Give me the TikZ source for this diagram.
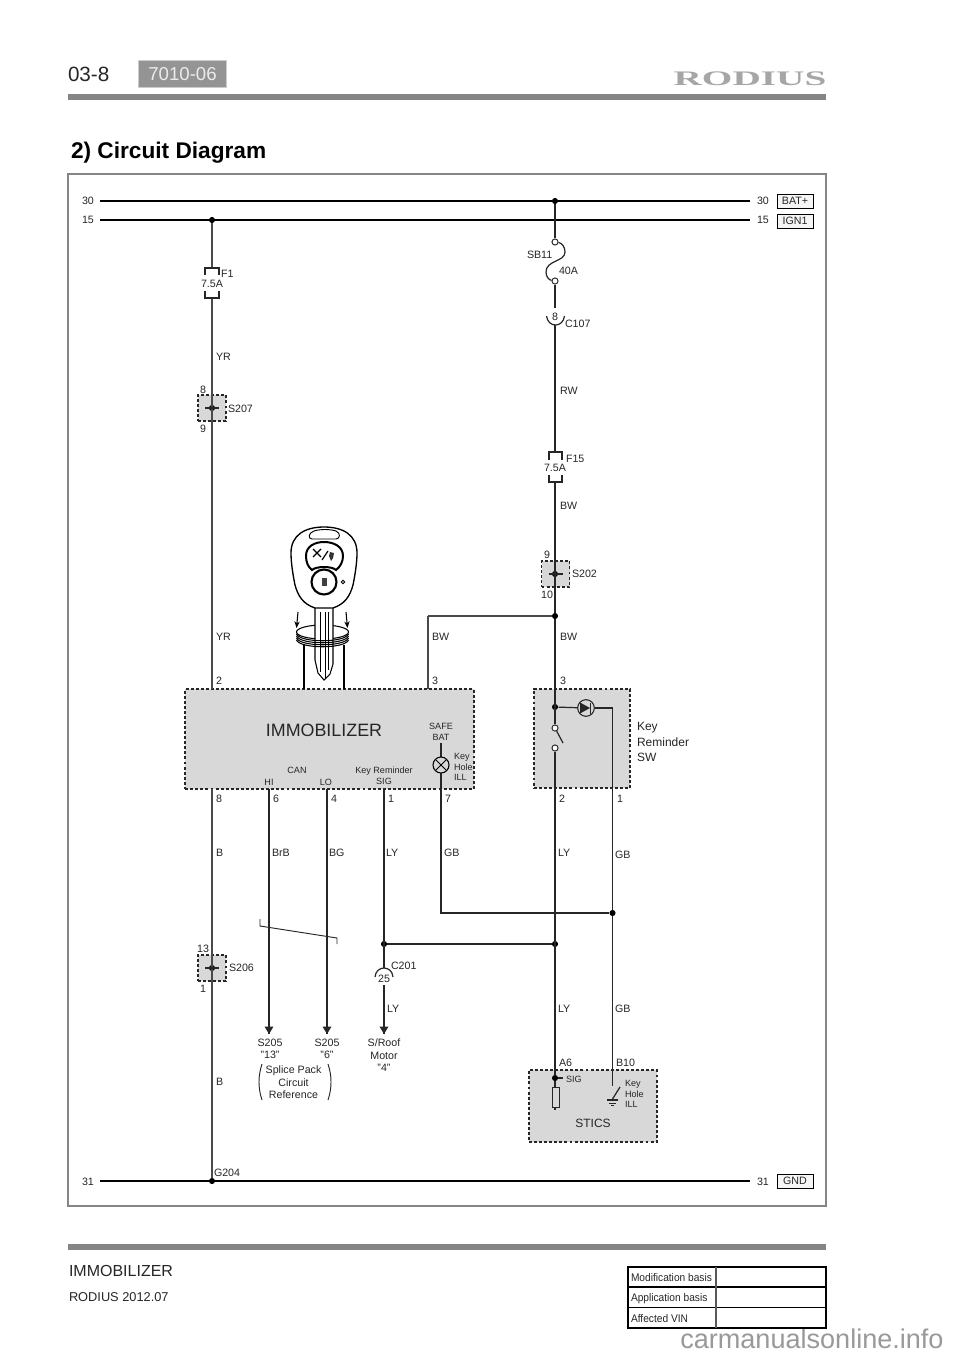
\documentclass[tikz,border=0pt]{standalone}
\usepackage{fontspec}
\setmainfont{Liberation Sans}
\newfontfamily\narrowsans[FakeStretch=0.92]{Liberation Sans}
\newfontfamily\logofont{Liberation Serif}
\usetikzlibrary{arrows.meta,calc}
\definecolor{boxgray}{HTML}{D8D8D8}
\definecolor{framegray}{HTML}{858585}
\definecolor{wiregray}{HTML}{4A4A4A}
\tikzset{
 x=0.75pt,y=-0.75pt,
 lbl/.style={inner sep=0pt,outer sep=0pt,yshift=-0.75pt,font=\fontsize{8}{9.4}\selectfont,text=black!85,anchor=west},
 ctr/.style={inner sep=0pt,outer sep=0pt,yshift=-0.75pt,font=\fontsize{8}{9.4}\selectfont,text=black!85,anchor=center,align=center},
 small/.style={font=\fontsize{6.8}{8}\selectfont},
 bus/.style={line width=1.5pt,black},
 wire/.style={line width=0.95pt,wiregray},
 thinwire/.style={line width=0.9pt,black!85},
 dot/.style={circle,fill=black,inner sep=0pt,minimum size=4.6pt},
 term/.style={circle,draw=black!85,fill=white,line width=0.7pt,inner sep=0pt,minimum size=4.6pt},
 dbox/.style={draw=black!85,fill=boxgray,line width=1.1pt,dash pattern=on 2.2pt off 1.6pt,inner sep=0pt},
 splicebox/.style={dbox,line width=0.8pt,minimum width=21pt,minimum height=19.5pt},
 tag/.style={draw=black,fill=black!4,line width=0.7pt,inner sep=0pt,minimum width=27pt,minimum height=10.5pt,font=\fontsize{8}{9}\selectfont,text=black!85},
 tip/.style={-{Triangle[length=5.5pt,width=6.4pt]}},
}
\begin{document}
\begin{tikzpicture}
\useasboundingbox (0,0) rectangle (960,1358);
\fill[white] (0,0) rectangle (960,1358);

% ----- page furniture
\draw[framegray,line width=3.8pt] (68,97) -- (826,97);
\draw[framegray,line width=3.8pt] (68,1247) -- (826,1247);
\node (pagenum) [lbl,font=\fontsize{15.5}{18}\selectfont] at (68,73) {03-8};
\node (code) [draw=black!20,fill=black!42,line width=1pt,inner sep=0pt,minimum width=66pt,minimum height=20.5pt,text=white!92!black,font=\fontsize{14}{16}\selectfont] at (182.5,74) {7010-06};
\node (logo) [inner sep=0pt,text=black!35,font=\logofont\bfseries\fontsize{15.5}{17}\selectfont] at (750,79) {\scalebox{1.9}[1]{RODIUS}};
\node (title) [lbl,text=black,font=\bfseries\fontsize{17}{20}\selectfont] at (71,152) {2) Circuit Diagram};
\draw[framegray,line width=1.5pt,fill=white] (67.5,174.5) rectangle (826,1206);
\node (footA) [lbl,font=\fontsize{12}{14}\selectfont] at (69,1270) {IMMOBILIZER};
\node (footB) [lbl,font=\fontsize{9.6}{11}\selectfont] at (69,1296) {RODIUS 2012.07};
\node (wm) [inner sep=0pt,anchor=base west,text=black!40,font=\fontsize{20.3}{24}\selectfont] at (680,1348) {carmanualsonline.info};

% table
\draw[black,line width=0.8pt] (628,1267) rectangle (826,1328);
\draw[black,line width=0.8pt] (628,1287) -- (826,1287) (628,1307.5) -- (826,1307.5);
\draw[black!65,line width=1.1pt] (716,1267) -- (716,1328);
\node (t1) [lbl,font=\narrowsans\fontsize{8.3}{10}\selectfont] at (631,1277) {Modification basis};
\node (t2) [lbl,font=\narrowsans\fontsize{8.3}{10}\selectfont] at (631,1298) {Application basis};
\node (t3) [lbl,font=\narrowsans\fontsize{8.3}{10}\selectfont] at (631,1318) {Affected VIN};

% ----- boxes
\node (imm) [dbox,minimum width=216.5pt,minimum height=75pt] at (329.5,739) {};
\node (krs) [dbox,minimum width=72pt,minimum height=74.5pt] at (582,738.5) {};
\node (stics) [dbox,line width=.8pt,minimum width=96pt,minimum height=54pt] at (593,1106) {};
\node (s207) [splicebox] at (212,408) {};
\node (s202) [splicebox] at (555.5,574) {};
\node (s206) [splicebox] at (212,968) {};

% ----- named points
\coordinate (b30l) at (100,201); \coordinate (b30r) at (750,201);
\coordinate (b15l) at (100,220); \coordinate (b15r) at (750,220);
\coordinate (b31l) at (100,1181); \coordinate (b31r) at (750,1181);
\node (j30) [dot] at (555,201) {};
\node (j15) [dot] at (212,220) {};
\node (j31) [dot] at (212,1181) {};
\node (d207) [dot] at (212,408) {};
\node (d202) [dot] at (555,574) {};
\node (d206) [dot] at (212,968) {};
\node (jbw) [dot] at (555,616) {};
\node (jkr) [dot] at (555,707) {};
\node (jgb) [dot] at (612.5,913) {};
\node (jly) [dot] at (555,944) {};
\node (jly2) [dot] at (384,944) {};
\node (jsig) [dot] at (555,1078) {};
\node (sbtop) [term] at (555,242) {};
\node (sbbot) [term] at (555,281) {};
\node (swa) [term] at (555,728) {};
\node (swb) [term] at (555,748) {};
\coordinate (f1a) at (212,268); \coordinate (f1b) at (212,298);
\coordinate (f15a) at (555,452); \coordinate (f15b) at (555,482);
\coordinate (c107a) at (555,308); \coordinate (c107b) at (555,325);
\coordinate (c201a) at (384,968); \coordinate (c201b) at (384,985);
\coordinate (p2) at (212,689); \coordinate (p8) at (212,789);
\coordinate (p6) at (269,789); \coordinate (p4) at (327,789); \coordinate (p1) at (384,789); \coordinate (p7) at (441,789);
\coordinate (p3) at (428,689); \coordinate (bwc) at (428,616);
\coordinate (a13) at (269,1034); \coordinate (a6) at (327,1034); \coordinate (a4) at (384,1034);
\coordinate (gbc) at (441,913);
\coordinate (lamp) at (441,765);
\coordinate (safe) at (441,743);
\coordinate (stsw) at (612.5,1086);
\coordinate (rt) at (555,1087); \coordinate (rb) at (555,1107);
\coordinate (dcorner) at (612.5,708);
\node (diode) [circle,draw=black!85,line width=.8pt,inner sep=0pt,minimum size=12.5pt] at (586,708) {};

% ----- buses
\draw[bus] (b30l) -- (b30r);
\draw[bus] (b15l) -- (b15r);
\draw[bus] (b31l) -- (b31r);

% ----- wires
\draw[wire] (j15) -- (f1a);
\draw[wire] (f1b) -- (p2);
\draw[wire] (p8) -- (j31);
\draw[wire] (bwc) -- (p3);
\draw[wire] (bwc) -- (jbw);
\draw[thinwire] (j30) -- (sbtop);
\draw[thinwire] (sbbot) -- (c107a);
\draw[thinwire] (c107b) -- (f15a);
\draw[thinwire] (f15b) -- (jbw);
\draw[thinwire] (jbw) -- (swa);
\draw[thinwire] (swb) -- (jsig);
\draw[thinwire] (jsig) -- (rt);
\draw[thinwire] (rb) -- ++(0,3);
\draw[thinwire] (jkr) -- (diode);
\draw[thinwire] (diode) -- (dcorner) -- (jgb);
\draw[thinwire] (jgb) -- (stsw);
\draw[thinwire] (lamp) -- (gbc) -- (jgb);
\draw[thinwire] (p6) -- (a13);
\draw[thinwire] (p4) -- (a6);
\draw[thinwire] (p1) -- (c201a);
\draw[thinwire] (jly2) -- (jly);
\draw[thinwire] (c201b) -- (a4);
\draw[thinwire,tip] ($(a13)+(0,-9)$) -- (a13);
\draw[thinwire,tip] ($(a6)+(0,-9)$) -- (a6);
\draw[thinwire,tip] ($(a4)+(0,-9)$) -- (a4);
\draw[thinwire] (safe) -- (lamp);

% splice ticks
\draw[thinwire] (205,408) -- (219,408);
\draw[thinwire] (548.5,574) -- (562.5,574);
\draw[thinwire] (205,968) -- (219,968);

% fuses
\draw[thinwire] (205,275) -- (205,268) -- (219,268) -- (219,275);
\draw[thinwire] (205,291) -- (205,298) -- (219,298) -- (219,291);
\draw[thinwire] (549,460) -- (549,452) -- (562,452) -- (562,460);
\draw[thinwire] (549,475) -- (549,482) -- (562,482) -- (562,475);
% fusible link
\draw[thinwire] (sbtop) .. controls (562,243) and (565,247) .. (565,252) .. controls (565,262) and (546,260) .. (546,272) .. controls (546,277) and (549,280) .. (sbbot);
% connectors
\draw[thinwire] (546.5,316) .. controls (548,328) and (563,328) .. (564.5,316);
\draw[thinwire] (375,977) .. controls (376,965) and (392,965) .. (393,977);
% diode
\fill[black!85] (580,702.5) -- (580,713.5) -- (590,708) -- cycle;
\draw[black!85,line width=.9pt] (590.5,702.5) -- (590.5,713.5);
% lamp
\node (lampc) [circle,draw=black,line width=.8pt,fill=boxgray,inner sep=0pt,minimum size=12pt] at (441,765) {};
\draw[black,line width=.7pt] ($(lampc)+(-5.6,-5.6)$) -- ($(lampc)+(5.6,5.6)$) ($(lampc)+(-5.6,5.6)$) -- ($(lampc)+(5.6,-5.6)$);
% switch
\draw[thinwire] (swa) -- (563,743);
% STICS parts
\draw[thinwire] (jsig) -- (563,1078);
\draw[black!85,line width=.7pt,fill=boxgray] (552,1087) rectangle (559,1107);
\draw[thinwire] (620,1087) -- (612.5,1099);
\draw[thinwire] (607,1100) -- (618,1100);
\draw[thinwire,line width=.6pt] (609,1103) -- (616,1103);
\draw[thinwire,line width=.6pt] (611,1105.5) -- (614,1105.5);
% twist mark
\draw[thinwire,line width=.7pt] (260,919) -- (260,926) -- (337,938) -- (337,944);
% parentheses
\draw[thinwire,line width=.7pt] (262,1064) .. controls (258,1076) and (258,1088) .. (262,1100);
\draw[thinwire,line width=.7pt] (328,1064) .. controls (332,1076) and (332,1088) .. (328,1100);

% ----- key
\draw[black,line width=.9pt] (304,645) -- (304,689) (344,645) -- (344,689);
\draw[black,line width=.8pt] (322.5,632) ellipse (26 and 7);
\draw[black,line width=.8pt,fill=white] (315,606) -- (315,660) -- (318,673) -- (324,680) -- (330,674) -- (333,664) -- (333,606);
\foreach \yy in {634,636,638,640}{\draw[black,line width=.8pt] (296.5,\yy) .. controls (300,\yy+9) and (345,\yy+9) .. (348.5,\yy);}
\draw[black,line width=.7pt] (320,612) -- (320,672) (325,612) -- (325,678) (328,612) -- (328,670);
\draw[black,line width=1pt,fill=white] (315,608) .. controls (303,604) and (298,596) .. (295,585) .. controls (293,575) and (291,563) .. (291,553) .. controls (291,535) and (305,527) .. (324,527) .. controls (343,527) and (357,535) .. (357,553) .. controls (357,563) and (355,575) .. (353,585) .. controls (350,596) and (345,604) .. (333,608) -- cycle;
\draw[black,line width=.7pt] (314,531) .. controls (320,529) and (330,529) .. (336,531) .. controls (341,533) and (340,539) .. (336,539) -- (312,539) .. controls (308,539) and (308,533) .. (314,531) -- cycle;
\draw[black,line width=1.5pt] (324,542) .. controls (333,542) and (343,546) .. (343,556) .. controls (343,562) and (340,567) .. (336,570) .. controls (332,566) and (316,566) .. (312,570) .. controls (308,567) and (306,562) .. (306,556) .. controls (306,546) and (315,542) .. (324,542) -- cycle;
\draw[black,line width=1.6pt] (324,582) circle (12.5);
\fill[black!75] (321.5,578) rectangle (326.5,586);
\fill[black!80] (329,556) -- (330,552) -- (334,553) -- (333,558) -- (331,561) -- cycle;
\draw[black,line width=.9pt] (313,549) -- (321,557) (321,549) -- (313,557) (322,560) -- (328,551);
\draw[black,line width=.6pt] (343,582) circle (1.8);
\draw[black,line width=.8pt,-{Stealth[length=5pt,width=4pt]}] (298,612) -- (296.5,628);
\draw[black,line width=.8pt,-{Stealth[length=5pt,width=4pt]}] (346,612) -- (347.5,628);

% ----- labels
\node (l30l) [lbl] at (82,200) {30}; \node (l15l) [lbl] at (82,219) {15}; \node (l31l) [lbl] at (82,1181) {31};
\node (l30r) [lbl] at (757,200) {30}; \node (l15r) [lbl] at (757,219) {15}; \node (l31r) [lbl] at (757,1181) {31};
\node (tbat) [tag] at (795,201) {BAT+};
\node (tign) [tag] at (795,221) {IGN1};
\node (tgnd) [tag] at (795,1181) {GND};
\node (lf1) [lbl] at (221,273) {F1};
\node (lf1a) [ctr] at (212,283) {7.5A};
\node (lyr1) [lbl] at (216,356) {YR};
\node (l8a) [ctr] at (203,389) {8};
\node (l9a) [ctr] at (203,428) {9};
\node (ls207) [lbl] at (228,408) {S207};
\node (lyr2) [lbl] at (216,636) {YR};
\node (lp2) [lbl] at (216,680) {2};
\node (lsb) [lbl] at (527,254) {SB11};
\node (l40) [lbl] at (559,270) {40A};
\node (l8c) [ctr] at (555,316) {8};
\node (lc107) [lbl] at (565,323) {C107};
\node (lrw) [lbl] at (560,390) {RW};
\node (lf15) [lbl] at (566,458) {F15};
\node (lf15a) [ctr] at (555,467) {7.5A};
\node (lbw1) [lbl] at (560,505) {BW};
\node (l9b) [ctr] at (547,554) {9};
\node (l10) [ctr] at (547,594) {10};
\node (ls202) [lbl] at (572,573) {S202};
\node (lbw2) [lbl] at (432,636) {BW};
\node (lbw3) [lbl] at (560,636) {BW};
\node (lp3) [lbl] at (432,680) {3};
\node (lp3b) [lbl] at (560,680) {3};
\node (limm) [ctr,font=\fontsize{13.4}{15}\selectfont] at (324,729) {IMMOBILIZER};
\node (lsafe) [ctr,small] at (441,731) {SAFE\\BAT};
\node (lkh) [lbl,small,align=left] at (454,766) {Key\\Hole\\ILL};
\node (lcan) [ctr,small] at (297,769) {CAN};
\node (lhi) [ctr,small] at (269,781) {HI};
\node (llo) [ctr,small] at (326,781) {LO};
\node (lkrs) [ctr,small] at (384,775) {Key Reminder\\SIG};
\node (lkr) [lbl,align=left,font=\fontsize{9}{11.4}\selectfont] at (637,741) {Key\\Reminder\\SW};
\node (lp8) [lbl] at (216,798) {8};
\node (lp6) [lbl] at (273,798) {6};
\node (lp4) [lbl] at (331,798) {4};
\node (lp1) [lbl] at (388,798) {1};
\node (lp7) [lbl] at (445,798) {7};
\node (lq2) [lbl] at (559,798) {2};
\node (lq1) [lbl] at (617,798) {1};
\node (lb1) [lbl] at (216,852) {B};
\node (lbrb) [lbl] at (272,852) {BrB};
\node (lbg) [lbl] at (329,852) {BG};
\node (lly1) [lbl] at (386,852) {LY};
\node (lgb1) [lbl] at (444,852) {GB};
\node (lly2) [lbl] at (558,852) {LY};
\node (lgb2) [lbl] at (615,854) {GB};
\node (l13) [ctr] at (203,948) {13};
\node (l1s) [ctr] at (203,988) {1};
\node (ls206) [lbl] at (229,967) {S206};
\node (lc201) [lbl] at (391,965) {C201};
\node (l25) [ctr] at (384,978) {25};
\node (lly3) [lbl] at (387,1008) {LY};
\node (lly4) [lbl] at (558,1008) {LY};
\node (lgb3) [lbl] at (615,1008) {GB};
\node (ls13) [ctr] at (270,1048) {S205\\"13"};
\node (ls6) [ctr] at (327,1048) {S205\\"6"};
\node (lroof) [ctr] at (384,1054.5) {S/Roof\\Motor\\"4"};
\node (lsp) [ctr] at (293.5,1081.5) {Splice Pack\\Circuit\\Reference};
\node (lb2) [lbl] at (216,1081) {B};
\node (la6) [lbl] at (559,1062) {A6};
\node (lb10) [lbl] at (616,1062) {B10};
\node (lsig) [lbl,small] at (566,1078) {SIG};
\node (lkh2) [lbl,small,align=left] at (625,1093) {Key\\Hole\\ILL};
\node (lst) [ctr,font=\fontsize{9}{11}\selectfont] at (593,1122) {STICS};
\node (lg) [lbl] at (214,1172) {G204};
\end{tikzpicture}
\end{document}
